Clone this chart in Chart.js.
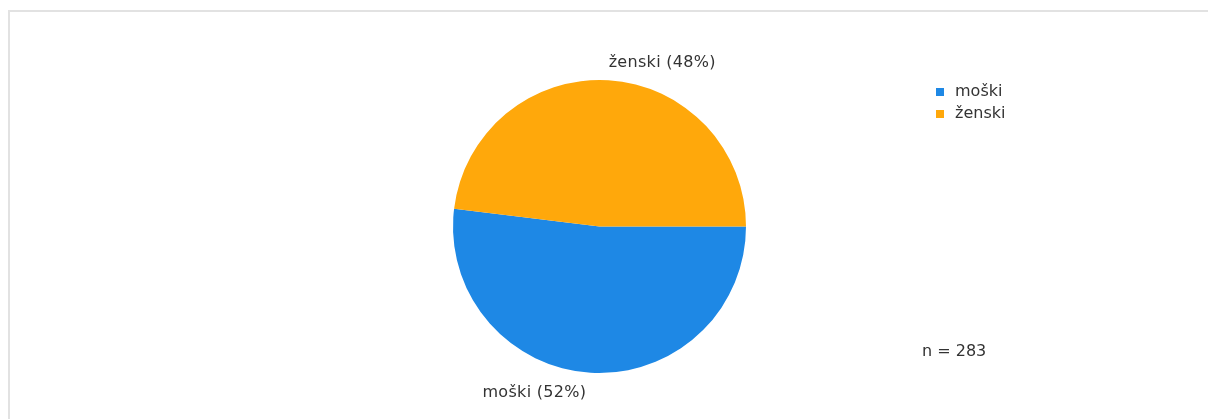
<!DOCTYPE html>
<html><head><meta charset="utf-8">
<script src="https://cdn.jsdelivr.net/npm/chart.js@4"></script>
<style>html,body{margin:0;padding:0;background:#fff;}#wrap{width:1208px;height:419px;position:relative;}</style>
</head><body><div id="wrap"><canvas id="c" width="1208" height="419"></canvas></div>
<script>
const categories = ['moški', 'ženski'];
const counts = [147, 136];
const percents = [52, 48];
const totalN = 283;
const colors = ['#1e88e5', '#ffa80b'];
const FONT = '16px "DejaVu Sans", Verdana, sans-serif';
const TXT = '#333333';

const extras = {
  id: 'extras',
  beforeDraw(chart) {
    const ctx = chart.ctx;
    ctx.save();
    ctx.fillStyle = '#e2e2e2';
    ctx.fillRect(8, 10, 1200, 2);
    ctx.fillRect(8, 10, 2, 409);
    ctx.restore();
  },
  afterDraw(chart) {
    const ctx = chart.ctx;
    ctx.save();
    ctx.font = FONT;
    ctx.fillStyle = TXT;
    ctx.textBaseline = 'middle';
    const meta = chart.getDatasetMeta(0);
    meta.data.forEach((arc, i) => {
      const mid = (arc.startAngle + arc.endAngle) / 2;
      const r = arc.outerRadius + 20;
      const right = Math.cos(mid) >= 0;
      const above = Math.sin(mid) < 0;
      const x = arc.x + Math.cos(mid) * r + (right ? -1 : -3);
      const y = arc.y + Math.sin(mid) * r + (above ? 3 : 0);
      ctx.textAlign = right ? 'left' : 'right';
      ctx.letterSpacing = '0.3px';
      ctx.fillText(categories[i] + ' (' + percents[i] + '%)', x, y);
    });
    ctx.letterSpacing = '0px';
    // legend
    ctx.textAlign = 'left';
    categories.forEach((c, i) => {
      const y = 92 + i * 21.5;
      ctx.fillStyle = colors[i];
      ctx.fillRect(936, Math.round(y - 4), 8, 8);
      ctx.fillStyle = TXT;
      ctx.fillText(c, 955, y);
    });
    ctx.fillText('n = ' + totalN, 922, 352);
    ctx.restore();
  }
};

new Chart(document.getElementById('c'), {
  type: 'pie',
  data: { labels: categories, datasets: [{ data: counts, backgroundColor: colors, borderWidth: 0 }] },
  options: {
    responsive: false,
    animation: false,
    rotation: 90,
    layout: { padding: { top: 80, bottom: 46, left: 453, right: 462 } },
    plugins: { legend: { display: false }, tooltip: { enabled: false } }
  },
  plugins: [extras]
});
</script></body></html>
